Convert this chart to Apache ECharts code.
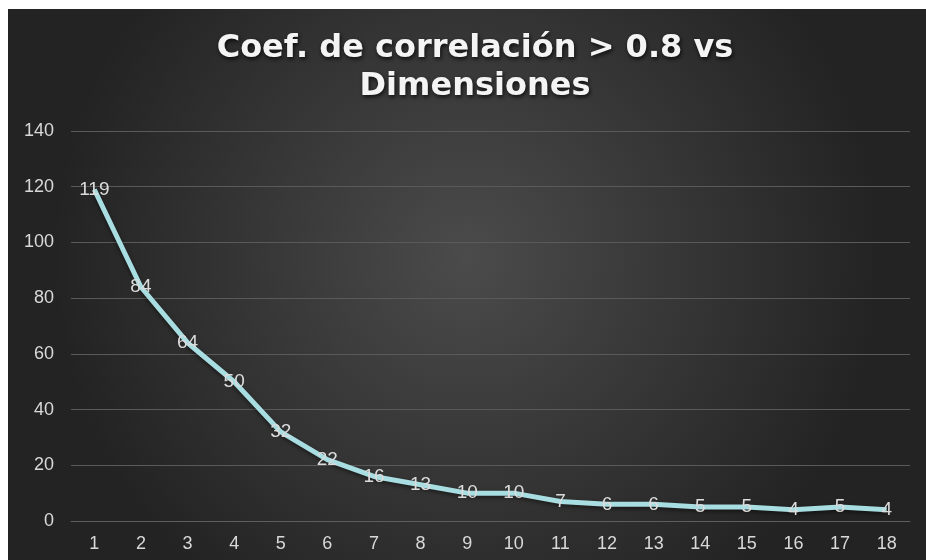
<!DOCTYPE html>
<html>
<head>
<meta charset="utf-8">
<script src="https://cdn.jsdelivr.net/npm/echarts@6/dist/echarts.min.js"></script>
<style>
  html, body { margin: 0; padding: 0; background: #fff; }
  #chart { width: 926px; height: 560px; }
</style>
</head>
<body>
<div id="chart"></div>
<script>
const titleText = 'Coef. de correlación > 0.8 vs\nDimensiones';
const dimensiones = ['1', '2', '3', '4', '5', '6', '7', '8', '9', '10', '11', '12', '13', '14', '15', '16', '17', '18'];
const coeficientes = [119, 84, 64, 50, 32, 22, 16, 13, 10, 10, 7, 6, 6, 5, 5, 4, 5, 4];
const yMin = 0, yMax = 140, yStep = 20;

const chart = echarts.init(document.getElementById('chart'));

chart.setOption({
    backgroundColor: '#ffffff',
    graphic: [{
        type: 'rect',
        z: -10,
        silent: true,
        shape: { x: 8, y: 9, width: 918, height: 551 },
        style: {
            fill: {
                type: 'radial', x: 0.5, y: 0.45, r: 0.75,
                colorStops: [
                    { offset: 0, color: '#4b4b4b' },
                    { offset: 1, color: '#232323' }
                ]
            }
        }
    }],
    title: {
        text: titleText,
        left: 470,
        top: 25,
        textAlign: 'center',
        textStyle: {
            color: '#f4f4f4',
            fontFamily: 'DejaVu Sans',
            fontWeight: 'bold',
            fontSize: 32,
            lineHeight: 38,
            textShadowColor: 'rgba(0,0,0,0.8)',
            textShadowBlur: 4,
            textShadowOffsetX: 1,
            textShadowOffsetY: 2
        }
    },
    grid: { left: 71, right: 16, top: 131, bottom: 39 },
    xAxis: {
        type: 'category',
        data: dimensiones,
        boundaryGap: true,
        axisLine: { lineStyle: { color: '#5e5e5e', width: 1 } },
        axisTick: { show: false },
        axisLabel: {
            color: '#d9d9d9',
            fontFamily: 'Liberation Sans',
            fontSize: 18,
            margin: 14
        }
    },
    yAxis: {
        type: 'value',
        min: yMin,
        max: yMax,
        interval: yStep,
        axisLine: { show: false },
        axisTick: { show: false },
        splitLine: { lineStyle: { color: '#5a5a5a', width: 1 } },
        axisLabel: {
            color: '#d9d9d9',
            fontFamily: 'Liberation Sans',
            fontSize: 18,
            margin: 17
        }
    },
    series: [{
        type: 'line',
        data: coeficientes,
        showSymbol: true,
        symbol: 'circle',
        symbolSize: 2,
        itemStyle: { color: 'transparent', borderWidth: 0 },
        lineStyle: {
            color: '#a8dde2',
            width: 5,
            shadowColor: 'rgba(0,0,0,0.5)',
            shadowBlur: 4,
            shadowOffsetY: 2
        },
        label: {
            show: true,
            position: 'inside',
            color: '#dcdcdc',
            fontFamily: 'Liberation Sans',
            fontSize: 19
        },
        labelLayout: { hideOverlap: false },
        emphasis: { disabled: true }
    }]
});
</script>
</body>
</html>
